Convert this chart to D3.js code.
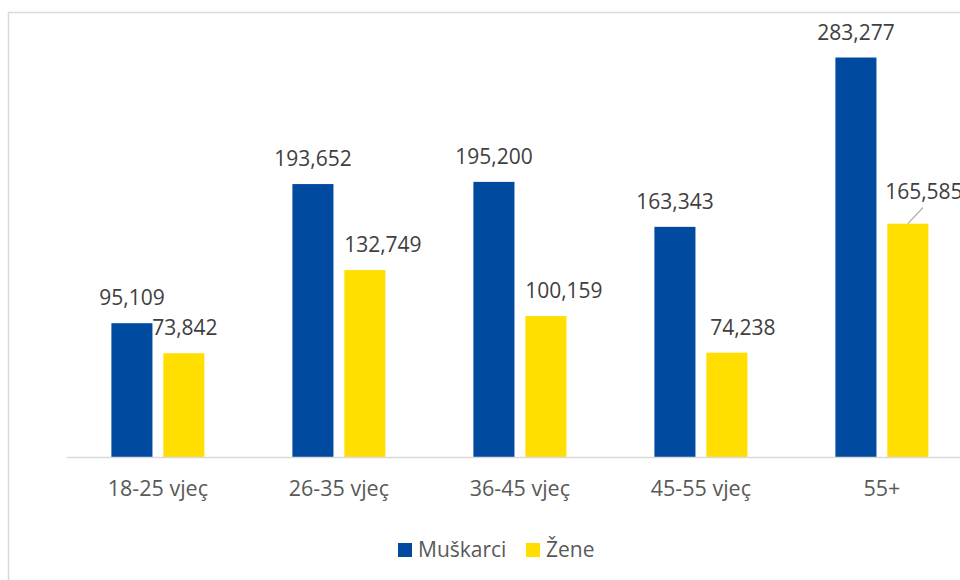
<!DOCTYPE html>
<html>
<head>
<meta charset="utf-8">
<script src="https://cdn.jsdelivr.net/npm/d3@7"></script>
<style>
    body { margin: 0; background: #fff; }
    svg text { font-family: 'Open Sans', 'Noto Sans', sans-serif; }
</style>
</head>
<body>
<div id="chart"></div>
<script>
// age groups and counts per group
const categories = ['18-25 vjeç', '26-35 vjeç', '36-45 vjeç', '45-55 vjeç', '55+'];
const seriesNames = ['Muškarci', 'Žene'];
const muskarci = [95109, 193652, 195200, 163343, 283277];
const zene = [73842, 132749, 100159, 74238, 165585];
const colors = ['#004aa0', '#ffde00'];

const width = 960;
const height = 580;

const svg = d3.select('#chart').append('svg')
    .attr('width', width)
    .attr('height', height);

// chart area border, cut off on the right and bottom like the screenshot
svg.append('rect')
    .attr('x', 8.5)
    .attr('y', 12.5)
    .attr('width', 1000)
    .attr('height', 1000)
    .style('fill', 'none')
    .style('stroke', '#d9d9d9')
    .style('stroke-width', 1.5);

const baseY = 457.5;
const y = d3.scaleLinear()
    .domain([0, 300000])
    .range([baseY, baseY - 423.6]);

const x0 = d3.scaleBand()
    .domain(categories)
    .range([67.4, 972.4]);

const groupWidth = 93;
const x1 = d3.scaleBand()
    .domain(seriesNames)
    .range([0, groupWidth])
    .paddingInner(0.21);

const rows = categories.map((c, i) => ({
    cat: c,
    values: [
        { name: seriesNames[0], value: muskarci[i], color: colors[0], dx: 0, dy: 0 },
        // the yellow labels were dragged a bit to the right in the original
        { name: seriesNames[1], value: zene[i], color: colors[1], dx: [1, 18, 18, 16, 16][i], dy: i === 4 ? -7 : 0 },
    ],
}));

const groups = svg.selectAll('.group')
    .data(rows)
    .enter().append('g')
    .attr('class', 'group')
    .attr('transform', d => `translate(${x0(d.cat) + (x0.bandwidth() - groupWidth) / 2},0)`);

groups.selectAll('rect')
    .data(d => d.values)
    .enter().append('rect')
    .attr('x', d => x1(d.name))
    .attr('y', d => y(d.value))
    .attr('width', x1.bandwidth())
    .attr('height', d => baseY - y(d.value))
    .style('fill', d => d.color);

const fmt = d3.format(',');

groups.each(function (g) {
    const grp = d3.select(this);
    g.values.forEach((s) => {
        const cx = x1(s.name) + x1.bandwidth() / 2;
        grp.append('text')
            .attr('x', cx + s.dx)
            .attr('y', y(s.value) - 18 + s.dy)
            .attr('text-anchor', 'middle')
            .style('font-size', '21px')
            .style('fill', '#404040')
            .text(fmt(s.value));
        // leader line where the label sits away from the bar
        if (s.dy !== 0) {
            grp.append('line')
                .attr('x1', cx)
                .attr('y1', y(s.value))
                .attr('x2', cx + 15)
                .attr('y2', y(s.value) - 16)
                .style('stroke', '#a6a6a6')
                .style('stroke-width', 1.2);
        }
    });
});

// category axis
svg.append('line')
    .attr('x1', 67)
    .attr('x2', 980)
    .attr('y1', baseY)
    .attr('y2', baseY)
    .style('stroke', '#d9d9d9')
    .style('stroke-width', 1.5);

svg.selectAll('.cat-label')
    .data(categories)
    .enter().append('text')
    .attr('class', 'cat-label')
    .attr('x', d => x0(d) + x0.bandwidth() / 2)
    .attr('y', 496)
    .attr('text-anchor', 'middle')
    .style('font-size', '21.5px')
    .style('fill', '#595959')
    .text(d => d);

// legend
const legend = svg.append('g')
    .attr('transform', 'translate(398,543)');
const legendX = [0, 128];
const legendItem = legend.selectAll('.legend-item')
    .data(seriesNames)
    .enter().append('g')
    .attr('class', 'legend-item')
    .attr('transform', (d, i) => `translate(${legendX[i]},0)`);
legendItem.append('rect')
    .attr('width', 14)
    .attr('height', 14)
    .style('fill', (d, i) => colors[i]);
legendItem.append('text')
    .attr('x', 20)
    .attr('y', 14)
    .style('font-size', '21px')
    .style('fill', '#595959')
    .text(d => d);
</script>
</body>
</html>
